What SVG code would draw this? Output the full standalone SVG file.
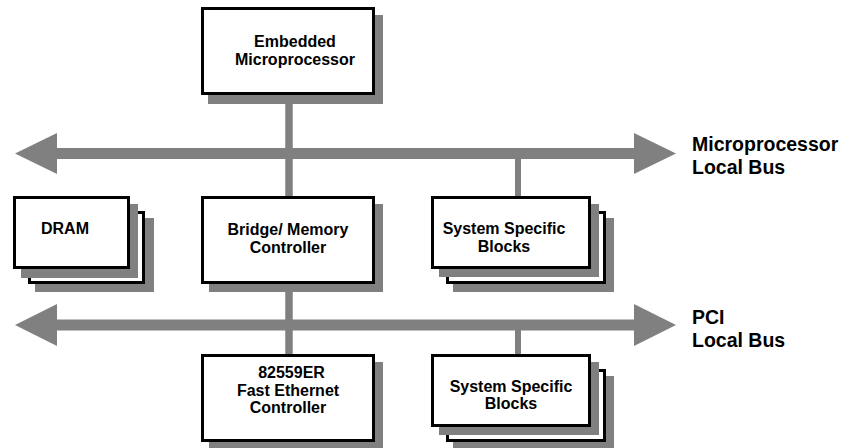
<svg xmlns="http://www.w3.org/2000/svg" width="843" height="448" viewBox="0 0 843 448">
<style>
.box{fill:#fff;stroke:#000;stroke-width:3}
.sh{fill:#808080}
.t{font-family:"Liberation Sans",Arial,sans-serif;font-weight:bold;font-size:16px;fill:#000;text-anchor:middle}
.lbl{font-family:"Liberation Sans",Arial,sans-serif;font-weight:bold;font-size:19.5px;fill:#000}
.bus{fill:#808080}
.line{stroke:#808080;fill:none}
</style>
<g id="connectors">
<line class="line" x1="289" y1="95" x2="289" y2="354" stroke-width="7.5"/>
<line class="line" x1="518" y1="155" x2="518" y2="197" stroke-width="6"/>
<line class="line" x1="518" y1="325" x2="518" y2="355" stroke-width="6"/>
<polygon id="mp-bus" class="bus" points="15,153.5 57,133 57,148 634,148 634,133 676,153.5 634,174 634,159 57,159 57,174"/>
<polygon id="pci-bus" class="bus" points="15,325 57,304 57,319.5 634,319.5 634,304 676,325 634,346 634,330.5 57,330.5 57,346"/>
</g>
<g id="embedded">
<rect class="sh" x="208" y="15" width="175" height="89"/>
<rect class="box" x="202.5" y="8.5" width="171" height="85"/>
<text class="t" x="295" y="47">Embedded</text>
<text class="t" x="295" y="65">Microprocessor</text>
</g>
<g id="bridge">
<rect class="sh" x="209" y="204" width="174" height="88"/>
<rect class="box" x="202.5" y="197.5" width="171" height="85"/>
<text class="t" x="288" y="235">Bridge/ Memory</text>
<text class="t" x="288" y="253">Controller</text>
</g>
<g id="ethernet">
<rect class="sh" x="209" y="362" width="174" height="88"/>
<rect class="box" x="202.5" y="355.5" width="171" height="85"/>
<text class="t" x="291.5" y="378">82559ER</text>
<text class="t" x="288" y="396">Fast Ethernet</text>
<text class="t" x="288" y="413">Controller</text>
</g>
<g id="dram">
<rect class="sh" x="35" y="218" width="119" height="74"/>
<rect class="box" x="29.5" y="212.5" width="114" height="70"/>
<rect class="sh" x="21" y="204" width="117" height="74"/>
<rect class="box" x="14.5" y="197.5" width="114" height="70"/>
<text class="t" x="65" y="234">DRAM</text>
</g>
<g id="ssb-top">
<rect class="sh" x="453" y="218" width="161" height="74"/>
<rect class="box" x="447.5" y="212.5" width="157" height="70"/>
<rect class="sh" x="439" y="204" width="160" height="73"/>
<rect class="box" x="432.5" y="197.5" width="157" height="70"/>
<text class="t" x="504" y="234">System Specific</text>
<text class="t" x="504" y="252">Blocks</text>
</g>
<g id="ssb-bottom">
<rect class="sh" x="453" y="376" width="161" height="74"/>
<rect class="box" x="447.5" y="370.5" width="157" height="70"/>
<rect class="sh" x="439" y="362" width="160" height="73"/>
<rect class="box" x="432.5" y="355.5" width="157" height="70"/>
<text class="t" x="511" y="392">System Specific</text>
<text class="t" x="511" y="409">Blocks</text>
</g>
<g id="labels">
<text class="lbl" x="692" y="151">Microprocessor</text>
<text class="lbl" x="692" y="174">Local Bus</text>
<text class="lbl" x="692" y="324">PCI</text>
<text class="lbl" x="692" y="347">Local Bus</text>
</g>
</svg>
